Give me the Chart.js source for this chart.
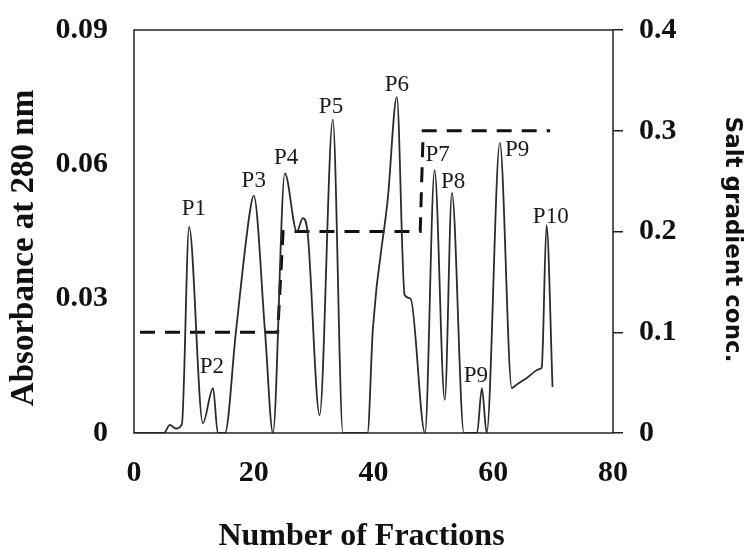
<!DOCTYPE html>
<html>
<head>
<meta charset="utf-8">
<script src="https://cdn.jsdelivr.net/npm/chart.js@4.4.1/dist/chart.umd.min.js"></script>
<style>
  html, body { margin: 0; padding: 0; background: #fff; }
  #wrap { width: 749px; height: 549px; }
</style>
</head>
<body>
<div id="wrap"><canvas id="chart" width="749" height="549"></canvas></div>
<script>
// Profil d'élution : fractions et absorbance à 280 nm
const fractions = [0, 5, 6, 7, 8, 9.2, 11.5, 13.2, 14, 15.2, 17, 19.4, 20, 21.9, 23.2, 25.2, 27.2, 28.2, 29, 31, 33.2, 34.9,
    39, 39.9, 42.4, 43.9, 45.2, 46.2, 48.6, 50.2, 51.9, 53.1, 55.1, 57.3, 58.1, 58.9, 61.1, 63.1, 63.5, 65.6, 67.8, 68.1, 68.9, 69.9];
const absorbance = [0, 0, 0.0018, 0.001, 0.002, 0.046, 0.0022, 0.010, 0, 0, 0.0223, 0.0498, 0.053, 0.0223, 0, 0.058, 0.045, 0.048, 0.0447, 0.004, 0.070, 0,
    0, 0.0234, 0.0525, 0.075, 0.0308, 0.030, 0, 0.0587, 0.0074, 0.0536, 0, 0, 0.010, 0, 0.0648, 0.010, 0.0104, 0.0123, 0.0143, 0.0147, 0.0464, 0.0103];

// Gradient de sel par paliers
const saltFractions = [1, 24, 24.9, 47.8, 48.3, 69.5];
const saltConc = [0.1, 0.1, 0.2, 0.2, 0.3, 0.3];

// Étiquettes des pics
const peakNames = ['P1', 'P2', 'P3', 'P4', 'P5', 'P6', 'P7', 'P8', 'P9', 'P9', 'P10'];
const peakX = [10.0, 13.0, 20.0, 25.4, 32.9, 43.9, 50.7, 53.3, 57.1, 64.0, 69.6];
const peakY = [0.0500, 0.0148, 0.0563, 0.0614, 0.0729, 0.0778, 0.0620, 0.0560, 0.0127, 0.0631, 0.0482];

// Graduations
const xTicks = [0, 20, 40, 60, 80];
const absTicks = [0, 0.03, 0.06, 0.09];
const saltTicks = [0, 0.1, 0.2, 0.3, 0.4];

const serif = '"Liberation Serif", "Times New Roman", serif';
const ink = '#111';

// Cadre autour de la zone de tracé
const framePlugin = {
    id: 'frame',
    afterDraw(chart) {
        const { ctx, chartArea: a } = chart;
        ctx.save();
        ctx.strokeStyle = '#222';
        ctx.lineWidth = 1.5;
        ctx.strokeRect(a.left, a.top, a.right - a.left, a.bottom - a.top);
        ctx.restore();
    }
};

// Noms des pics posés sur les axes du graphique
const peakLabelPlugin = {
    id: 'peakLabels',
    afterDatasetsDraw(chart) {
        const { ctx, scales } = chart;
        ctx.save();
        ctx.fillStyle = '#1a1a1a';
        ctx.font = '23px ' + serif;
        ctx.textAlign = 'center';
        ctx.textBaseline = 'middle';
        peakNames.forEach((name, i) => {
            ctx.fillText(name, scales.x.getPixelForValue(peakX[i]), scales.y.getPixelForValue(peakY[i]));
        });
        ctx.restore();
    }
};

// Largeur fixe des axes verticaux, sans marge haute/basse ajoutée
function fixVertical(width) {
    return s => {
        s.width = width;
        s.paddingTop = 0;
        s.paddingBottom = 0;
    };
}

const ctx = document.getElementById('chart').getContext('2d');
const chart = new Chart(ctx, {
    type: 'line',
    data: {
        datasets: [
            {
                label: 'Absorbance',
                data: fractions.map((f, i) => ({ x: f, y: absorbance[i] })),
                borderColor: '#2b2b2b',
                borderWidth: 1.8,
                pointRadius: 0,
                cubicInterpolationMode: 'monotone',
                fill: false,
                yAxisID: 'y'
            },
            {
                label: 'Salt',
                data: saltFractions.map((f, i) => ({ x: f, y: saltConc[i] })),
                borderColor: ink,
                borderWidth: 3,
                borderDash: [15, 10],
                pointRadius: 0,
                tension: 0,
                fill: false,
                yAxisID: 'ySalt'
            }
        ]
    },
    options: {
        responsive: false,
        animation: false,
        devicePixelRatio: 1,
        layout: { padding: { top: 30, left: 0, right: 0, bottom: 0 } },
        plugins: {
            legend: { display: false },
            tooltip: { enabled: false }
        },
        scales: {
            x: {
                type: 'linear',
                position: 'bottom',
                min: 0,
                max: 80,
                afterBuildTicks: s => { s.ticks = xTicks.map(v => ({ value: v })); },
                afterFit: s => { s.height = 116; },
                grid: { display: false, drawTicks: false },
                border: { display: false },
                ticks: {
                    color: ink,
                    padding: 22,
                    maxRotation: 0,
                    font: { family: serif, size: 30, weight: 'bold' },
                    callback: v => String(v)
                },
                title: {
                    display: true,
                    text: 'Number of Fractions   ',
                    color: ink,
                    font: { family: serif, size: 32, weight: 'bold', lineHeight: 0.75 },
                    padding: { top: 0, bottom: 0 }
                }
            },
            y: {
                position: 'left',
                min: 0,
                max: 0.09,
                afterBuildTicks: s => { s.ticks = absTicks.map(v => ({ value: v })); },
                afterFit: fixVertical(134),
                grid: { display: false, drawTicks: false },
                border: { display: false },
                ticks: {
                    color: ink,
                    padding: 26,
                    font: { family: serif, size: 30, weight: 'bold' },
                    callback: v => String(v)
                },
                title: {
                    display: true,
                    text: 'Absorbance at 280 nm    ',
                    color: ink,
                    font: { family: serif, size: 33, weight: 'bold', lineHeight: 1.2 },
                    padding: { top: 5, bottom: 0 }
                }
            },
            ySalt: {
                position: 'right',
                min: 0,
                max: 0.4,
                afterBuildTicks: s => { s.ticks = saltTicks.map(v => ({ value: v })); },
                afterFit: fixVertical(136),
                grid: { drawOnChartArea: false, drawTicks: true, tickLength: 10, color: '#222', lineWidth: 1.5 },
                border: { display: false },
                ticks: {
                    color: ink,
                    padding: 16,
                    font: { family: serif, size: 30, weight: 'bold' },
                    callback: v => String(v)
                },
                title: {
                    display: true,
                    text: '  Salt gradient conc.',
                    color: ink,
                    font: { family: '"DejaVu Sans", sans-serif', size: 23, weight: 'bold', lineHeight: 1.2 },
                    padding: { top: 3, bottom: 0 }
                }
            }
        }
    },
    plugins: [framePlugin, peakLabelPlugin]
});
</script>
</body>
</html>
